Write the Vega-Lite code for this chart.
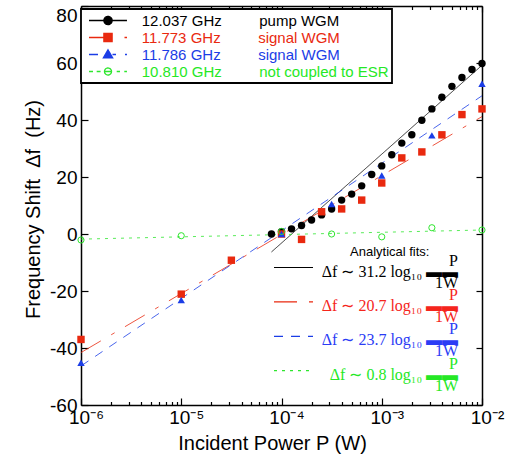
{
  "$schema": "https://vega.github.io/schema/vega-lite/v6.json",
  "width": 401,
  "height": 399,
  "autosize": {"type": "none"},
  "padding": {"left": 81, "top": 6, "right": 30, "bottom": 54},
  "background": "white",
  "config": {
    "view": {"stroke": null},
    "legend": {"strokeWidth": 1.8},
    "axis": {
      "grid": false,
      "domainColor": "black",
      "domainWidth": 1.5,
      "tickColor": "black",
      "tickWidth": 1.2,
      "labelColor": "black",
      "labelFont": "Liberation Sans",
      "labelFontSize": 19,
      "titleFont": "Liberation Sans",
      "titleFontSize": 20,
      "titleFontWeight": "normal",
      "titleColor": "black"
    }
  },
  "datasets": {
    "pts": [
      {"freq": "12.037 GHz", "P": 7.943e-5, "df": 0.0},
      {"freq": "12.037 GHz", "P": 1e-4, "df": 0.8},
      {"freq": "12.037 GHz", "P": 1.259e-4, "df": 1.8},
      {"freq": "12.037 GHz", "P": 1.585e-4, "df": 3.0},
      {"freq": "12.037 GHz", "P": 1.995e-4, "df": 4.9},
      {"freq": "12.037 GHz", "P": 2.512e-4, "df": 6.7},
      {"freq": "12.037 GHz", "P": 3.162e-4, "df": 8.8},
      {"freq": "12.037 GHz", "P": 3.981e-4, "df": 11.9},
      {"freq": "12.037 GHz", "P": 5.012e-4, "df": 14.0},
      {"freq": "12.037 GHz", "P": 6.310e-4, "df": 16.9},
      {"freq": "12.037 GHz", "P": 7.943e-4, "df": 20.9},
      {"freq": "12.037 GHz", "P": 1e-3, "df": 23.9},
      {"freq": "12.037 GHz", "P": 1.259e-3, "df": 27.8},
      {"freq": "12.037 GHz", "P": 1.585e-3, "df": 31.9},
      {"freq": "12.037 GHz", "P": 1.995e-3, "df": 34.8},
      {"freq": "12.037 GHz", "P": 2.512e-3, "df": 39.9},
      {"freq": "12.037 GHz", "P": 3.162e-3, "df": 43.9},
      {"freq": "12.037 GHz", "P": 3.981e-3, "df": 48.0},
      {"freq": "12.037 GHz", "P": 5.012e-3, "df": 51.8},
      {"freq": "12.037 GHz", "P": 6.310e-3, "df": 54.9},
      {"freq": "12.037 GHz", "P": 7.943e-3, "df": 57.7},
      {"freq": "12.037 GHz", "P": 1e-2, "df": 59.8},
      {"freq": "11.773 GHz", "P": 1e-6, "df": -37.0},
      {"freq": "11.773 GHz", "P": 1e-5, "df": -21.1},
      {"freq": "11.773 GHz", "P": 3.162e-5, "df": -9.2},
      {"freq": "11.773 GHz", "P": 1e-4, "df": 0.0},
      {"freq": "11.773 GHz", "P": 1.585e-4, "df": -1.9},
      {"freq": "11.773 GHz", "P": 2.512e-4, "df": 7.8},
      {"freq": "11.773 GHz", "P": 3.981e-4, "df": 8.8},
      {"freq": "11.773 GHz", "P": 6.310e-4, "df": 11.9},
      {"freq": "11.773 GHz", "P": 1e-3, "df": 17.9},
      {"freq": "11.773 GHz", "P": 1.585e-3, "df": 26.7},
      {"freq": "11.773 GHz", "P": 2.512e-3, "df": 28.8},
      {"freq": "11.773 GHz", "P": 3.981e-3, "df": 34.8},
      {"freq": "11.773 GHz", "P": 6.310e-3, "df": 41.9},
      {"freq": "11.773 GHz", "P": 1e-2, "df": 43.9},
      {"freq": "11.786 GHz", "P": 1e-6, "df": -45.2},
      {"freq": "11.786 GHz", "P": 1e-5, "df": -23.2},
      {"freq": "11.786 GHz", "P": 1e-4, "df": 0.0},
      {"freq": "11.786 GHz", "P": 3.162e-4, "df": 10.5},
      {"freq": "11.786 GHz", "P": 1e-3, "df": 20.5},
      {"freq": "11.786 GHz", "P": 3.162e-3, "df": 34.6},
      {"freq": "11.786 GHz", "P": 1e-2, "df": 52.7},
      {"freq": "10.810 GHz", "P": 1e-6, "df": -2.1},
      {"freq": "10.810 GHz", "P": 1e-5, "df": -0.6},
      {"freq": "10.810 GHz", "P": 1e-4, "df": 0.9},
      {"freq": "10.810 GHz", "P": 3.162e-4, "df": 0.0},
      {"freq": "10.810 GHz", "P": 1e-3, "df": -1.0},
      {"freq": "10.810 GHz", "P": 3.162e-3, "df": 2.2},
      {"freq": "10.810 GHz", "P": 1e-2, "df": 1.4}
    ],
    "fits": [
      {"fit": "31.2", "freq": "12.037 GHz", "P": 7.943e-5, "df": -6.3},
      {"fit": "31.2", "freq": "12.037 GHz", "P": 1e-2, "df": 59.2},
      {"fit": "20.7", "freq": "11.773 GHz", "P": 1e-6, "df": -41.6},
      {"fit": "20.7", "freq": "11.773 GHz", "P": 1e-2, "df": 41.2},
      {"fit": "23.7", "freq": "11.786 GHz", "P": 1e-6, "df": -46.3},
      {"fit": "23.7", "freq": "11.786 GHz", "P": 1e-2, "df": 48.5},
      {"fit": "0.8", "freq": "10.810 GHz", "P": 1e-6, "df": -1.8},
      {"fit": "0.8", "freq": "10.810 GHz", "P": 1e-2, "df": 1.4}
    ]
  },
  "resolve": {"axis": {"x": "independent", "y": "independent"}},
  "layer": [
    {
      "data": {"name": "fits"},
      "mark": {"type": "line", "strokeWidth": 0.8},
      "encoding": {
        "x": {
          "field": "P", "type": "quantitative",
          "scale": {"type": "log", "domain": [1e-6, 1e-2], "nice": false},
          "axis": {
            "orient": "bottom",
            "values": [1e-6, 2e-6, 3e-6, 4e-6, 5e-6, 6e-6, 7e-6, 8e-6, 9e-6, 1e-5, 2e-5, 3e-5, 4e-5, 5e-5, 6e-5, 7e-5, 8e-5, 9e-5, 1e-4, 2e-4, 3e-4, 4e-4, 5e-4, 6e-4, 7e-4, 8e-4, 9e-4, 1e-3, 2e-3, 3e-3, 4e-3, 5e-3, 6e-3, 7e-3, 8e-3, 9e-3, 1e-2],
            "tickSize": {"condition": {"test": "abs(log(datum.value)/LN10 - round(log(datum.value)/LN10)) < 0.01", "value": -7}, "value": -3.5},
            "labelExpr": "abs(log(datum.value)/LN10 - round(log(datum.value)/LN10)) < 0.01 ? ['10⁻⁶','10⁻⁵','10⁻⁴','10⁻³','10⁻²'][round(log(datum.value)/LN10)+6] : ''",
            "labelPadding": 10,
            "labelBaseline": "top",
            "labelFlush": false,
            "labelOverlap": false,
            "labelOffset": 5,
            "title": "Incident Power P (W)",
            "titleX": 191,
            "titleY": 44,
            "titleAlign": "center",
            "titleBaseline": "alphabetic"
          }
        },
        "y": {
          "field": "df", "type": "quantitative",
          "scale": {"domain": [-60, 80], "nice": false, "zero": false},
          "axis": {
            "orient": "left",
            "values": [-60, -40, -20, 0, 20, 40, 60, 80],
            "tickSize": -7,
            "labelPadding": 11,
            "labelExpr": "datum.value + ''",
            "labelBaseline": {"condition": {"test": "datum.value == 80", "value": "top"}, "value": "middle"},
            "labelFlush": false,
            "labelOverlap": false,
            "title": "Frequency Shift\u00a0\u00a0Δf\u00a0\u00a0(Hz)",
            "titleX": -42,
            "titleY": 203,
            "titleAngle": 270,
            "titleAlign": "center",
            "titleBaseline": "alphabetic"
          }
        },
        "stroke": {
          "field": "fit", "type": "nominal",
          "scale": {"domain": ["31.2", "20.7", "23.7", "0.8"], "range": ["black", "#e9290f", "#1b3de6", "#2ee62e"]},
          "legend": {
            "orient": "none",
            "legendX": 193,
            "legendY": 240,
            "padding": 0,
            "title": "Analytical fits:",
            "titleFont": "Liberation Sans",
            "titleFontSize": 13,
            "titleFontWeight": "normal",
            "titleColor": "black",
            "titlePadding": 0,
            "symbolSize": 225,
            "symbolOffset": 11,
            "symbolStrokeWidth": 1.2,
            "labelOffset": 156,
            "labelAlign": "right",
            "labelBaseline": "middle",
            "labelFont": "Liberation Serif",
            "labelFontSize": 16,
            "labelLimit": 400,
            "rowPadding": -4.6,
            "labelExpr": "['P\u00a0\u00a0', 'Δf ∼ ' + datum.value + ' log₁₀ ▬▬', '1W']",
            "encode": {
              "symbols": {"update": {
                "shape": {"value": "M-2.6,0H2.6"},
                "size": {"value": 225},
                "strokeWidth": {"value": 1.2},
                "fill": {"value": "transparent"},
                "opacity": {"value": 1},
                "strokeDash": {"signal": "[[1,0],[23,12,4,12],[9,8],[3,5]][indexof(['31.2','20.7','23.7','0.8'], datum.value)]"}
              }},
              "labels": {"update": {
                "fill": {"signal": "['black','#f5251c','#2b3cf5','#25e825'][indexof(['31.2','20.7','23.7','0.8'], datum.value)]"},
                "lineHeight": {"value": 11},
                "dy": {"value": -7}
              }},
              "title": {"update": {"dx": {"value": 76}}}
            }
          }
        },
        "strokeDash": {
          "field": "fit", "type": "nominal",
          "scale": {"domain": ["31.2", "20.7", "23.7", "0.8"], "range": [[1, 0], [23, 12, 4, 12], [9, 8], [3, 5]]}
        },
        "opacity": {
          "field": "freq", "type": "nominal",
          "scale": {"type": "point", "domain": ["12.037 GHz", "11.773 GHz", "11.786 GHz", "10.810 GHz"], "range": [1, 1]},
          "legend": {
            "orient": "none",
            "legendX": 0,
            "legendY": 3,
            "padding": 3,
            "title": null,
            "strokeColor": "black",
            "fillColor": "white",
            "symbolSize": 225,
            "symbolOffset": 15.5,
            "symbolStrokeWidth": 1.3,
            "labelOffset": 25.2,
            "labelFont": "Liberation Sans",
            "labelFontSize": 15,
            "labelBaseline": "middle",
            "labelLimit": 400,
            "rowPadding": -3.9,
            "labelExpr": "datum.value + '\u00a0\u00a0\u00a0\u00a0\u00a0\u00a0\u00a0\u00a0\u00a0' + ['pump WGM','signal WGM','signal WGM','not coupled to ESR\u00a0\u00a0\u00a0'][indexof(['12.037 GHz','11.773 GHz','11.786 GHz','10.810 GHz'], datum.value)]",
            "encode": {
              "symbols": {"update": {
                "shape": {"signal": "['M-2.53,0H2.53M-0.55,0A0.55,0.55,0,1,1,0.55,0A0.55,0.55,0,1,1,-0.55,0Z','M-2.53,0H-0.55M2.2,0H2.53M-0.55,-0.55H0.55V0.55H-0.55Z','M-2.53,0H-1.33M0.6,0H1.07M2.27,0H2.53M0,-0.62L0.62,0.45L-0.62,0.45Z','M-2.53,0H-2M-1.51,0H-0.99M-0.47,0H0.47M1.16,0H1.6M2.17,0H2.53M-0.47,0A0.47,0.47,0,1,1,0.47,0A0.47,0.47,0,1,1,-0.47,0Z'][indexof(['12.037 GHz','11.773 GHz','11.786 GHz','10.810 GHz'], datum.value)]"},
                "size": {"value": 225},
                "strokeWidth": {"value": 1.3},
                "strokeDash": {"value": [1, 0]},
                "fillOpacity": {"value": 1},
                "fill": {"signal": "['black','#e9290f','#1b3de6','transparent'][indexof(['12.037 GHz','11.773 GHz','11.786 GHz','10.810 GHz'], datum.value)]"},
                "stroke": {"signal": "['black','#e9290f','#1b3de6','#2ee62e'][indexof(['12.037 GHz','11.773 GHz','11.786 GHz','10.810 GHz'], datum.value)]"}
              }},
              "labels": {"update": {
                "fill": {"signal": "['black','#e9290f','#1b3de6','#25e825'][indexof(['12.037 GHz','11.773 GHz','11.786 GHz','10.810 GHz'], datum.value)]"}
              }}
            }
          }
        }
      }
    },
    {
      "data": {"name": "pts"},
      "transform": [{"filter": "datum.freq == '12.037 GHz'"}],
      "mark": {"type": "point", "filled": true, "opacity": 1, "size": 55, "shape": "circle", "color": "black"},
      "encoding": {
        "x": {
          "field": "P", "type": "quantitative",
          "scale": {"type": "log", "domain": [1e-6, 1e-2], "nice": false},
          "axis": {
            "orient": "top",
            "values": [1e-6, 2e-6, 3e-6, 4e-6, 5e-6, 6e-6, 7e-6, 8e-6, 9e-6, 1e-5, 2e-5, 3e-5, 4e-5, 5e-5, 6e-5, 7e-5, 8e-5, 9e-5, 1e-4, 2e-4, 3e-4, 4e-4, 5e-4, 6e-4, 7e-4, 8e-4, 9e-4, 1e-3, 2e-3, 3e-3, 4e-3, 5e-3, 6e-3, 7e-3, 8e-3, 9e-3, 1e-2],
            "tickSize": {"condition": {"test": "abs(log(datum.value)/LN10 - round(log(datum.value)/LN10)) < 0.01", "value": -6}, "value": -3.5},
            "labels": false,
            "title": null
          }
        },
        "y": {
          "field": "df", "type": "quantitative",
          "scale": {"domain": [-60, 80], "nice": false, "zero": false},
          "axis": {
            "orient": "right",
            "values": [-60, -40, -20, 0, 20, 40, 60, 80],
            "tickSize": -6,
            "labels": false,
            "title": null
          }
        }
      }
    },
    {
      "data": {"name": "pts"},
      "transform": [{"filter": "datum.freq == '11.773 GHz'"}],
      "mark": {"type": "point", "filled": true, "opacity": 1, "size": 55, "shape": "square", "color": "#e9290f"},
      "encoding": {
        "x": {"field": "P", "type": "quantitative", "scale": {"type": "log", "domain": [1e-6, 1e-2], "nice": false}, "axis": null},
        "y": {"field": "df", "type": "quantitative", "scale": {"domain": [-60, 80], "nice": false, "zero": false}, "axis": null}
      }
    },
    {
      "data": {"name": "pts"},
      "transform": [{"filter": "datum.freq == '11.786 GHz'"}],
      "mark": {"type": "point", "filled": true, "opacity": 1, "size": 55, "shape": "triangle-up", "color": "#1b3de6"},
      "encoding": {
        "x": {"field": "P", "type": "quantitative", "scale": {"type": "log", "domain": [1e-6, 1e-2], "nice": false}, "axis": null},
        "y": {"field": "df", "type": "quantitative", "scale": {"domain": [-60, 80], "nice": false, "zero": false}, "axis": null}
      }
    },
    {
      "data": {"name": "pts"},
      "transform": [{"filter": "datum.freq == '10.810 GHz'"}],
      "mark": {"type": "point", "filled": false, "opacity": 1, "size": 38, "strokeWidth": 1, "shape": "circle", "color": "#2ee62e"},
      "encoding": {
        "x": {"field": "P", "type": "quantitative", "scale": {"type": "log", "domain": [1e-6, 1e-2], "nice": false}, "axis": null},
        "y": {"field": "df", "type": "quantitative", "scale": {"domain": [-60, 80], "nice": false, "zero": false}, "axis": null}
      }
    }
  ]
}
